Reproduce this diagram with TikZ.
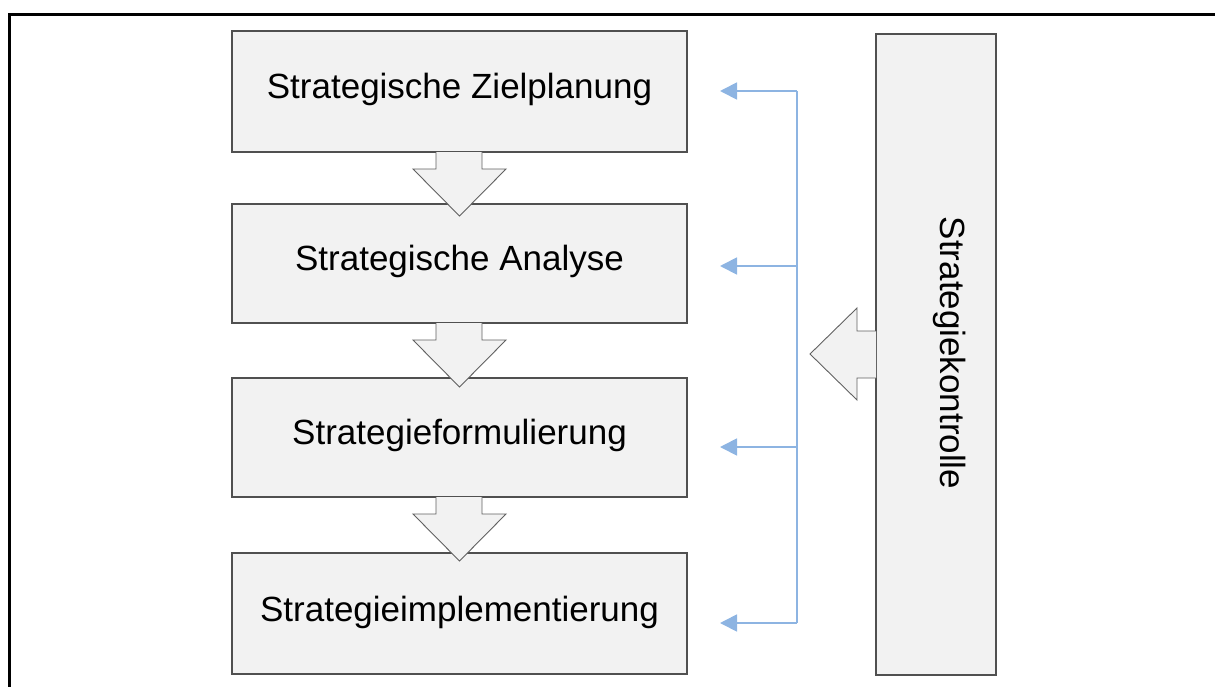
\documentclass[tikz,border=0pt]{standalone}
\usepackage{fontspec}
\setmainfont{Liberation Sans}
\usetikzlibrary{arrows.meta}
\definecolor{boxfill}{HTML}{F2F2F2}
\definecolor{boxline}{HTML}{505050}
\definecolor{fbblue}{HTML}{8DB4E2}
\begin{document}
\begin{tikzpicture}[x=1pt,y=-1pt,
  stagebox/.style={draw=boxline,fill=boxfill,line width=1.3pt},
  blockarrow/.style={draw=boxline!90,fill=boxfill,line width=0.9pt,line join=miter},
  lbl/.style={font=\fontsize{35}{42}\selectfont,anchor=base,inner sep=0pt},
  fb/.style={draw=fbblue,line width=1.8pt,-{Triangle[length=17pt,width=17pt]}},
  fbline/.style={draw=fbblue,line width=1.8pt}]
\useasboundingbox (0,0) rectangle (1215,686);
% frame
\draw[line width=3pt] (9,690) -- (9,14) -- (1220,14);
% stage boxes
\draw[stagebox] (232,31) rectangle (687,152);
\draw[stagebox] (232,204) rectangle (687,323);
\draw[stagebox] (232,378) rectangle (687,497);
\draw[stagebox] (232,553) rectangle (687,674);
\draw[stagebox] (876,34) rectangle (996,675);
\coordinate (b1) at (459.5,91.5);
\coordinate (b2) at (459.5,263.5);
\coordinate (b3) at (459.5,437.5);
\coordinate (b4) at (459.5,613.5);
% down block arrows
\foreach \s in {152,323,497}{
  \draw[blockarrow] (436,\s) -- (436,\s+17) -- (413,\s+17) -- (459.5,\s+64)
     -- (506,\s+17) -- (482,\s+17) -- (482,\s);
}
% left block arrow
\draw[blockarrow] (876,331) -- (857,331) -- (857,308) -- (810,354) -- (857,400)
   -- (857,378) -- (876,378);
% labels
\node[lbl] (t1) at (459.5,98) {Strategische Zielplanung};
\node[lbl] (t2) at (459.5,270) {Strategische Analyse};
\node[lbl] (t3) at (459.5,444) {Strategieformulierung};
\node[lbl] (t4) at (459.5,621) {Strategieimplementierung};
\node[lbl,rotate=-90] (tk) at (940,353) {Strategiekontrolle};
% feedback connectors
\coordinate (v1) at (797,91);
\coordinate (v2) at (797,266);
\coordinate (v3) at (797,447);
\coordinate (v4) at (797,623);
\coordinate (e1) at (720,91);
\coordinate (e2) at (720,266);
\coordinate (e3) at (720,447);
\coordinate (e4) at (720,623);
\draw[fbline,line join=miter] (v1) -- (v4);
\draw[fb] (v1) -- (e1);
\draw[fb] (v2) -- (e2);
\draw[fb] (v3) -- (e3);
\draw[fb] (v4) -- (e4);
\end{tikzpicture}
\end{document}
